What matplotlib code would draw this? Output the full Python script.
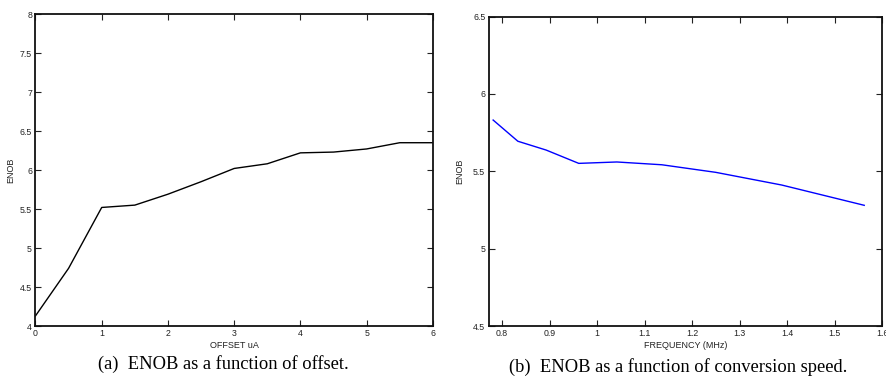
import matplotlib
matplotlib.use("Agg")
import matplotlib.pyplot as plt
from matplotlib.ticker import FuncFormatter

# (a) ENOB versus comparator offset
offset_ua = [0, 0.5, 1, 1.5, 2, 2.5, 3, 3.5, 4, 4.5, 5, 5.5, 6]
enob_offset = [4.13, 4.74, 5.52, 5.55, 5.69, 5.85, 6.02, 6.08, 6.22, 6.23, 6.27, 6.35, 6.35]

# (b) ENOB versus conversion frequency
freq_mhz = [0.78125, 0.8333, 0.8929, 0.9615, 1.0417, 1.1364, 1.25, 1.3889, 1.5625]
enob_freq = [5.831, 5.694, 5.637, 5.551, 5.560, 5.542, 5.493, 5.411, 5.280]

offset_ticks = [0, 1, 2, 3, 4, 5, 6]
offset_yticks = [4, 4.5, 5, 5.5, 6, 6.5, 7, 7.5, 8]
freq_ticks = [0.8, 0.9, 1.0, 1.1, 1.2, 1.3, 1.4, 1.5, 1.6]
freq_yticks = [4.5, 5, 5.5, 6, 6.5]

caption_a = "(a)  ENOB as a function of offset."
caption_b = "(b)  ENOB as a function of conversion speed."

plt.rcParams["font.family"] = ["Liberation Sans", "DejaVu Sans"]

fig = plt.figure(figsize=(8.87, 3.84), dpi=100)
ax1 = fig.add_axes([0.040, 0.151, 0.448, 0.8125])
ax2 = fig.add_axes([0.551, 0.151, 0.4434, 0.806])

fmt = FuncFormatter(lambda v, p: "%g" % v)


def style(ax):
    for s in ax.spines.values():
        s.set_linewidth(1.3)
        s.set_color("#111111")
    ax.tick_params(direction="in", length=4, width=0.8, top=True, right=True,
                   labelsize=6.3, colors="#222222", pad=2.5)
    ax.xaxis.set_major_formatter(fmt)
    ax.yaxis.set_major_formatter(fmt)


ax1.plot(offset_ua, enob_offset, color="black", lw=1.0)
ax1.set_xlim(0, 6)
ax1.set_ylim(4, 8)
ax1.set_xticks(offset_ticks)
ax1.set_yticks(offset_yticks)
style(ax1)
ax1.set_xlabel("OFFSET uA", fontsize=6.5, labelpad=1.5, color="#222222")
ax1.set_ylabel("ENOB", fontsize=6.5, labelpad=3, color="#222222")

ax2.plot(freq_mhz, enob_freq, color="blue", lw=1.0)
ax2.set_xlim(0.772, 1.6)
ax2.set_ylim(4.5, 6.5)
ax2.set_xticks(freq_ticks)
ax2.set_yticks(freq_yticks)
style(ax2)
ax2.set_xlabel("FREQUENCY (MHz)", fontsize=6.5, labelpad=1.5, color="#222222")
ax2.set_ylabel("ENOB", fontsize=6.5, labelpad=6, color="#222222")

fig.text(0.252, 0.028, caption_a, ha="center", va="bottom",
         fontsize=13.3, family=["Liberation Serif", "DejaVu Serif"])
fig.text(0.765, 0.022, caption_b, ha="center", va="bottom",
         fontsize=13.3, family=["Liberation Serif", "DejaVu Serif"])

fig.savefig("out.png", dpi=100, facecolor="white")
